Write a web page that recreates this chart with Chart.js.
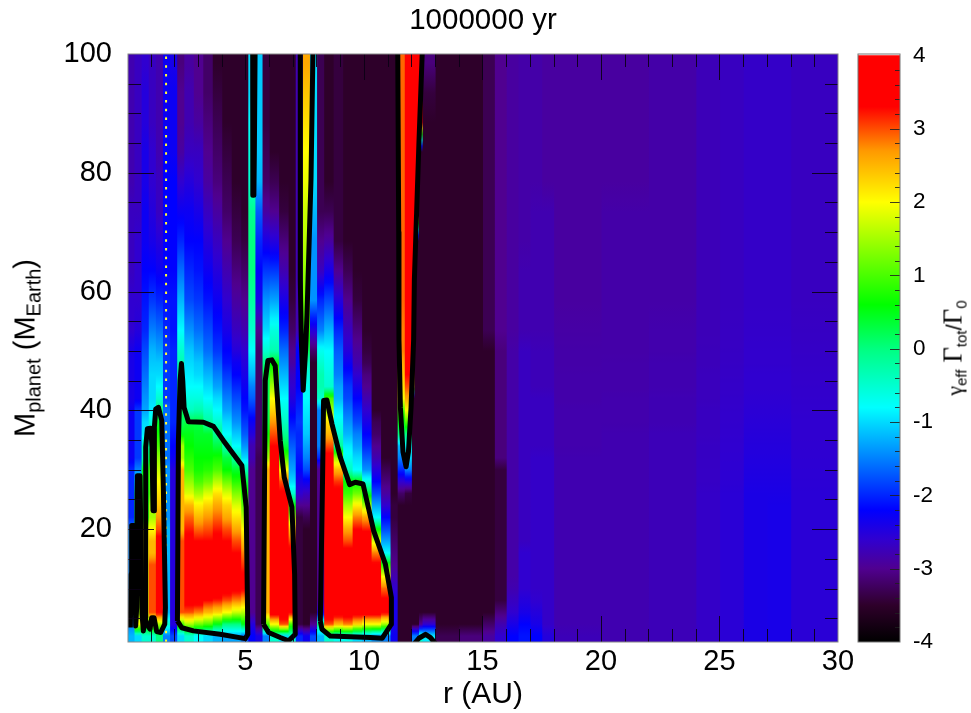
<!DOCTYPE html>
<html>
<head>
<meta charset="utf-8">
<title>1000000 yr</title>
<script src="https://cdn.jsdelivr.net/npm/chart.js@4/dist/chart.umd.min.js"></script>
<style>
	html, body { margin: 0; padding: 0; background: #fff; width: 971px; height: 713px; overflow: hidden; }
	canvas { position: absolute; top: 0; display: block; }
	#mainChart { left: 0; }
	#barChart { left: 850px; }
	.rot { position: absolute; white-space: nowrap; color: #000; transform: translate(-50%, -50%) rotate(-90deg); }
	#yTitle { left: 25px; top: 348px; font: 29px "Liberation Sans", sans-serif; }
	#yTitle sub { font-size: 20px; vertical-align: -6px; line-height: 0; }
	#barTitle { left: 953px; top: 348px; font: 27px "Liberation Serif", serif; }
	#barTitle sub { font: 15px "Liberation Sans", sans-serif; vertical-align: -5px; line-height: 0; }
	#barTitle .slash { font: 22px "Liberation Sans", sans-serif; }
	#barTitle .gam { font-size: 22px; }
</style>
</head>
<body>
<canvas id="mainChart" width="971" height="713"></canvas>
<canvas id="barChart" width="121" height="713"></canvas>
<div class="rot" id="yTitle">M<sub>planet</sub>&nbsp;(M<sub>Earth</sub>)</div>
<div class="rot" id="barTitle"><span class="gam">γ</span><sub>eff</sub>&nbsp;Γ<sub>tot</sub><span class="slash">/</span>Γ<sub>0</sub></div>
<script>
const titleText = "1000000 yr";
const xTitleText = "r (AU)";
const xTickValues = [5, 10, 15, 20, 25, 30];
const yTickValues = [20, 40, 60, 80, 100];
const barTickValues = [-4, -3, -2, -1, 0, 1, 2, 3, 4];

// colour table
const cmapLevels = [-4, -3.5, -3, -2.6, -2.2, -1.5, -0.8, 0, 0.6, 2, 2.7, 3.3, 4];
const cmapColors = ["#000000", "#2e002a", "#500090", "#3000d0", "#0000ff", "#0080ff", "#00ffff", "#00ff80", "#00ff00", "#ffff00", "#ff9900", "#ff0000", "#ff0000"];

// r column edges and the mass each value in a column was read at
const rEdges = [0.05, 0.3, 0.6, 0.9, 1.2, 1.5, 1.8, 2.1, 2.4, 2.8, 3.2, 3.6, 4, 4.4, 4.8, 5.1, 5.4, 5.7, 6, 6.4, 6.8, 7.1, 7.4, 7.7, 8, 8.3, 8.7, 9.1, 9.5, 9.9, 10.3, 10.7, 11.1, 11.4, 11.7, 12, 12.1, 12.3, 12.45, 13, 14, 15, 15.5, 16, 16.5, 17, 17.5, 18, 20, 22, 24, 25, 26, 27, 28, 30];
const massRows = [2, 4, 6, 8, 10, 12, 14, 16, 18, 20, 22, 24, 26, 28, 30, 32, 34, 36, 38, 40, 42, 44, 46, 48, 50, 53.5, 58.5, 63.5, 68.5, 73.5, 78.5, 83.5, 88.5, 93.5, 98.5];

// one list per r column, bottom to top
const gamma = [
[-1.2,-1.5,-1.5,-1.5,-1.5,-1.5,-1.5,-1.5,-1.5,-1.5,-2,-2,-2,-2,-2,-2.3,-2.3,-2.3,-2.3,-2.3,-2.4,-2.4,-2.4,-2.4,-2.4,-2.6,-2.6,-2.7,-2.7,-2.7,-2.8,-2.8,-2.8,-2.8,-2.8],
[-1,2,1.5,1.5,1.5,1.5,1.5,1.5,1.5,.5,.5,.5,.5,-.6,-1.5,-1.9,-1.9,-1.9,-1.9,-1.9,-2.3,-2.3,-2.3,-2.3,-2.3,-2.5,-2.6,-2.6,-2.6,-2.7,-2.7,-2.7,-2.7,-2.7,-2.7],
[-.5,1,2,2,2,2,2,2,2,2,.5,.5,.5,.5,.5,-.3,-.3,-.9,-1,-1.3,-1.4,-1.5,-1.6,-1.7,-1.8,-2,-2.1,-2.2,-2.3,-2.3,-2.4,-2.4,-2.5,-2.5,-2.6],
[-.5,1.5,3,3,3,3,3,2.5,2.5,2,1.5,1.5,1,1,1,.5,0,-.3,-.6,-.9,-1,-1,-1,-1.1,-1.2,-1.5,-1.9,-2.2,-2.4,-2.5,-2.6,-2.6,-2.7,-2.7,-2.7],
[0,1.5,3.5,3.5,3.5,3.5,3.5,3.5,3.5,3,2.7,2.4,2.2,2,1.7,1.4,1,.7,.4,0,-.5,-.8,-1,-1.1,-1.3,-1.6,-2,-2.3,-2.5,-2.7,-2.7,-2.8,-2.8,-2.8,-2.8],
[-1.5,-.5,-1.2,-1.2,-1.2,-1.2,-1.2,-1.2,-1.2,-1.2,-1.4,-1.4,-1.4,-1.4,-1.4,-1.6,-1.6,-1.6,-1.6,-1.6,-1.9,-1.9,-1.9,-1.9,-1.9,-2,-2.1,-2.2,-2.2,-2.2,-2.2,-2.2,-2.3,-2.3,-2.3],
[-1.8,-2.5,-2.5,-2.5,-2.5,-2.5,-2.5,-2.5,-2.5,-2.5,-2.5,-2.5,-2.5,-2.5,-2.5,-2.3,-2.2,-2.1,-2,-2,-2,-2,-2,-2,-2,-2.1,-2.1,-2.2,-2.2,-2.2,-2.2,-2.3,-2.3,-2.3,-2.4],
[-1,1,3,3,3,3,3,3,3,2.5,2.5,2.5,2.5,2.5,2.5,1.5,1.5,.5,.2,.2,-.1,-.2,-.2,-.3,-.5,-.8,-1.2,-1.6,-2,-2.3,-2.6,-2.9,-3,-3,-3.1],
[-.5,1.5,3,3.5,3.5,3.5,3.5,3.5,3.5,3.2,2.9,2.5,1.8,1.4,1,.8,.6,.5,.3,-.4,-.6,-.8,-.9,-1,-1.1,-1.4,-1.8,-2,-2.2,-2.3,-2.5,-2.7,-2.8,-2.8,-2.9],
[-.8,1.2,2.8,3.6,3.6,3.6,3.6,3.6,3.3,2.9,2.5,2.1,1.5,1,.7,.6,.5,.4,.3,-.3,-.6,-.8,-1,-1.1,-1.3,-1.6,-1.9,-2.1,-2.2,-2.4,-2.6,-2.7,-2.9,-3,-3],
[-1,1,2.5,3.3,3.6,3.6,3.6,3.6,3.3,3,2.7,2.3,1.8,1.2,.8,.6,.5,.4,-.2,-.5,-.8,-1,-1.2,-1.4,-1.6,-1.8,-2.1,-2.3,-2.5,-2.7,-2.9,-3,-3.1,-3.2,-3.2],
[-1.2,.5,2.3,3.2,3.7,3.7,3.7,3.7,3.5,3.2,2.9,2.6,2.2,1.6,1,.7,.3,-.1,-.5,-.8,-1,-1.3,-1.5,-1.7,-1.9,-2.1,-2.3,-2.5,-2.7,-2.9,-3.1,-3.2,-3.3,-3.4,-3.5],
[-1.3,0,2,3,3.6,3.6,3.6,3.6,3.3,3,2.6,2.3,1.8,1.2,.6,.3,-.3,-.8,-1,-1.3,-1.5,-1.7,-1.9,-2.1,-2.2,-2.4,-2.6,-2.8,-3,-3.2,-3.3,-3.4,-3.5,-3.5,-3.5],
[-1.3,0,1.7,2.8,3.5,3.5,3.5,3.3,3,2.6,2.2,1.8,1.3,.8,.4,-.2,-.8,-1.1,-1.4,-1.6,-1.8,-2,-2.2,-2.3,-2.5,-2.7,-2.9,-3.1,-3.3,-3.4,-3.5,-3.5,-3.5,-3.5,-3.5],
[-1.6,.5,1.6,2.6,3.4,3.4,3.1,2.8,2.4,2,1.6,1.1,.7,.3,-.3,-1,-1.4,-1.7,-1.9,-2.1,-2.2,-2.3,-2.4,-2.5,-2.6,-2.8,-3,-3.2,-3.4,-3.5,-3.5,-3.5,-3.5,-3.5,-3.5],
[-2.2,-2.5,-3,-3,-3,-3,-3,-3,-3,-3,-3,-3,-3,-3,-3,-2.8,-2.8,-2.5,-2.3,-2,-1.7,-1.5,-1.2,-1,-.8,-.5,-.2,0,0,-.1,-.5,-.6,-.8,-1,-1],
[-2.4,-3.3,-3.3,-3.3,-3.3,-3.3,-3.3,-3.3,-3.3,-3.3,-3.3,-3.3,-3.3,-3.3,-3.3,-3.3,-3.2,-3.2,-3.2,-3.2,-3.2,-3.2,-3.2,-3.2,-3.2,-3,-2.4,-2.2,-2,-1.7,-1.2,-1.1,-1.1,-1.1,-1.1],
[-1.5,1,2.5,2.5,2.5,2.5,2.5,2.5,2.5,2.5,2.5,2.5,2.5,2.5,2.5,1.5,1,.6,.3,.2,.2,.2,.3,0,-.5,-1,-1.4,-1.9,-2.4,-2.9,-3.2,-3.3,-3.4,-3.4,-3.4],
[-.5,2,3.7,3.7,3.7,3.7,3.7,3.7,3.7,3.7,3.7,3.7,3.7,3.7,3.6,3.4,3.3,3,2.7,2.3,2,1.5,1,.5,-.3,-.6,-1.3,-1.9,-2.5,-3,-3.3,-3.5,-3.5,-3.5,-3.5],
[-1,3,3.7,3.7,3.7,3.7,3.7,3.7,3.7,3.7,3.7,3.7,3.4,3,2,1,.3,-.1,-.4,-.6,-.8,-1,-1.2,-1.4,-1.6,-2,-2.4,-2.8,-3.1,-3.4,-3.5,-3.5,-3.5,-3.5,-3.5],
[-.5,1,3.6,3.6,3.6,3.6,3.6,3.6,3,2.4,1.5,.6,-.5,-1,-1.3,-1.5,-1.7,-1.9,-2.1,-2.3,-2.5,-2.6,-2.7,-2.9,-3,-3.2,-3.4,-3.5,-3.5,-3.5,-3.5,-3.5,-3.5,-3.5,-3.5],
[-2,-3.4,-3.4,-3.4,-3.4,-3.4,-3.4,-3.4,-3.4,-3.4,-3.4,-3,-2.6,-2.4,-2.2,-2.1,-2,-2,-1.9,-2,-2.1,-2.2,-2.2,-2.2,-2.2,-2.8,-2.8,-2.8,-2.8,-2.8,-2.8,-2.8,-2.8,-2.8,-2.8],
[-2.3,-3.5,-3.5,-3.5,-3.5,-3.5,-3.5,-3.5,-3.5,-3.5,-3.3,-3,-2.7,-2.3,-1.8,-1.5,-1.3,-1.1,-1,-.9,-.8,-.7,-.6,-.4,.2,.8,1.2,1.4,1.6,1.7,1.9,2,2.2,2.4,2.6],
[-1.8,-3,-3.5,-3.5,-3.5,-3.5,-3.5,-3.5,-3.5,-3.5,-3.5,-3.5,-3.5,-3.5,-3.5,-3.5,-3.5,-3.5,-3.5,-3.5,-3.5,-3.5,-3.5,-3.5,-3.2,-2.5,-1.4,-1.4,-1.4,-1.2,-1,-1,-1,-1,-1],
[-1.2,0,-2.5,-3,-3,-3,-3,-3,-3,-3,-3,-3,-3,-3,-3,-2,-1.5,-1.5,-1.5,-1.5,-.5,-.3,-.3,-.5,-.7,-1.5,-2,-2.7,-3,-3.3,-3.3,-3.3,-3.3,-3.3,-3.3],
[-.5,3,3.7,3.7,3.7,3.7,3.7,3.7,3.7,3.7,3.7,3.7,3.7,3.7,3.6,3.5,3,2.5,2.2,1.5,1,-.5,-.6,-.7,-.8,-1.2,-1.8,-2.4,-2.9,-3.3,-3.5,-3.5,-3.5,-3.5,-3.5],
[-.7,2.5,3.7,3.7,3.7,3.7,3.7,3.7,3.7,3.7,3.7,3.7,3.5,3.1,2.5,1.5,-.2,-.5,-.7,-.9,-1.2,-1.3,-1.5,-1.6,-1.7,-2,-2.5,-3,-3.4,-3.4,-3.4,-3.4,-3.4,-3.4,-3.4],
[-.7,2.8,3.7,3.7,3.7,3.7,3.7,3.5,3,2.6,2,1.5,.9,.6,-.4,-.7,-.9,-1.2,-1.4,-1.6,-1.8,-1.9,-2.1,-2.3,-2.5,-2.7,-3,-3.3,-3.5,-3.5,-3.5,-3.5,-3.5,-3.5,-3.5],
[-1,2.3,3.7,3.7,3.7,3.7,3.7,3.7,3.7,3.3,2.8,2.1,1.2,.6,-.8,-1,-1.3,-1.5,-1.8,-2,-2.2,-2.4,-2.6,-2.8,-2.9,-3.1,-3.4,-3.5,-3.5,-3.5,-3.5,-3.5,-3.5,-3.5,-3.5],
[-1.2,2,3.7,3.7,3.7,3.7,3.7,3.7,3.7,3.2,2.6,1.5,.4,-.6,-1.4,-1.7,-2,-2.2,-2.4,-2.6,-2.8,-3,-3.1,-3.3,-3.4,-3.5,-3.5,-3.5,-3.5,-3.5,-3.5,-3.5,-3.5,-3.5,-3.5],
[-1.4,2,3.7,3.7,3.7,3.7,3.4,2.8,1.8,.6,-.8,-1.3,-1.8,-2.2,-2.5,-2.8,-3,-3.2,-3.3,-3.5,-3.5,-3.5,-3.5,-3.5,-3.5,-3.5,-3.5,-3.5,-3.5,-3.5,-3.5,-3.5,-3.5,-3.5,-3.5],
[-1.5,1.5,3.5,3.4,2.9,2,.8,-.8,-1.3,-1.8,-2.2,-2.6,-2.9,-3.1,-3.3,-3.5,-3.5,-3.5,-3.5,-3.5,-3.5,-3.5,-3.5,-3.5,-3.5,-3.5,-3.5,-3.5,-3.5,-3.5,-3.5,-3.5,-3.5,-3.5,-3.5],
[-2.3,-2.4,-2.4,-2.4,-2.6,-2.8,-3,-3.1,-3.2,-3.3,-3.4,-3.4,-3.5,-3.5,-3.5,-3.5,-3.5,-3.5,-3.5,-3.5,-3.5,-3.5,-3.5,-3.5,-3.5,-3.5,-3.5,-3.5,-3.5,-3.5,-3.5,-3.5,-3.5,-3.5,-3.5],
[-3.5,-3.5,-3.5,-3.5,-3.5,-3.5,-3.5,-3.5,-3.5,-3.5,-3.5,-3.5,-3.2,-2.6,-2,-1.5,-1.2,0,.5,1,2,2.2,2.4,2.6,2.8,2.8,2.9,2.9,2.9,2.9,2.9,2.9,2.9,2.9,2.9],
[-3.5,-3.5,-3.5,-3.5,-3.5,-3.5,-3.5,-3.5,-3.5,-3.5,-3.5,-3.5,-3.4,-2.5,-1.5,-1,-.8,0,1,2,2.6,3,3.3,3.5,3.6,3.7,3.7,3.7,3.7,3.7,3.7,3.7,3.7,3.7,3.7],
[-1.5,-3.5,-3.5,-3.5,-3.5,-3.5,-3.5,-3.5,-3.5,-3.5,-3.5,-3.5,-3.5,-3.5,-3.5,-3.5,-3.5,-3.5,-3.5,-3.5,-3.5,2,3,3.5,3.6,3.7,3.7,3.7,3.7,3.7,3.7,3.7,3.7,3.7,3.7],
[-1.5,-3.5,-3.5,-3.5,-3.5,-3.5,-3.5,-3.5,-3.5,-3.5,-3.5,-3.5,-3.5,-3.5,-3.5,-3.5,-3.5,-3.5,-3.5,-3.5,-3.5,-3.5,-3.5,-3.5,-3.5,-3.5,-3.5,-3.5,-3.5,3.5,3.7,3.7,3.7,3.7,3.7],
[-.5,-3,-3.5,-3.5,-3.5,-3.5,-3.5,-3.5,-3.5,-3.5,-3.5,-3.5,-3.5,-3.5,-3.5,-3.5,-3.5,-3.5,-3.5,-3.5,-3.5,-3.5,-3.5,-3.5,-3.5,-3.5,-3.5,-3.5,-3.5,-3.5,-3.5,-3.5,3.5,3.7,3.7],
[-.9,-2.6,-3.5,-3.5,-3.5,-3.5,-3.5,-3.5,-3.5,-3.5,-3.5,-3.5,-3.5,-3.5,-3.5,-3.5,-3.5,-3.5,-3.5,-3.5,-3.5,-3.5,-3.5,-3.5,-3.5,-3.5,-3.5,-3.5,-3.5,-3.5,-3.5,-3.5,-3.5,-3.4,-3.1],
[-3.3,-3.5,-3.5,-3.5,-3.5,-3.5,-3.5,-3.5,-3.5,-3.5,-3.5,-3.5,-3.5,-3.5,-3.5,-3.5,-3.5,-3.5,-3.5,-3.5,-3.5,-3.5,-3.5,-3.5,-3.5,-3.5,-3.5,-3.5,-3.5,-3.5,-3.5,-3.5,-3.5,-3.5,-3.5],
[-3.1,-3.5,-3.5,-3.5,-3.5,-3.5,-3.5,-3.5,-3.5,-3.5,-3.5,-3.5,-3.5,-3.5,-3.5,-3.5,-3.5,-3.5,-3.5,-3.5,-3.5,-3.5,-3.5,-3.5,-3.5,-3.5,-3.5,-3.5,-3.5,-3.5,-3.5,-3.5,-3.5,-3.5,-3.5],
[-2.9,-3.2,-3.5,-3.5,-3.5,-3.5,-3.5,-3.5,-3.5,-3.5,-3.5,-3.5,-3.5,-3.5,-3.5,-3.5,-3.5,-3.5,-3.5,-3.5,-3.5,-3.5,-3.5,-3.5,-3.5,-3.3,-3.3,-3.3,-3.3,-3.3,-3.3,-3.3,-3.3,-3.3,-3.3],
[-2.6,-2.8,-3.1,-3.4,-3.4,-3.4,-3.4,-3.4,-3.4,-3.4,-3.4,-3.4,-3.4,-3.4,-3.4,-3.1,-3.1,-3.1,-3.1,-3.1,-3.1,-3.1,-3.1,-3.1,-3.1,-3,-3,-3,-3,-3,-3,-3,-3,-3,-3],
[-2.2,-2.4,-2.6,-2.7,-2.8,-2.85,-2.85,-2.85,-2.85,-2.85,-2.85,-2.85,-2.85,-2.85,-2.85,-2.85,-2.85,-2.85,-2.85,-2.85,-2.85,-2.85,-2.85,-2.85,-2.85,-2.9,-2.9,-2.9,-2.9,-2.9,-2.9,-2.9,-2.9,-2.9,-2.9],
[-2.1,-2.2,-2.4,-2.5,-2.6,-2.6,-2.6,-2.6,-2.7,-2.7,-2.7,-2.7,-2.7,-2.7,-2.7,-2.7,-2.7,-2.7,-2.7,-2.7,-2.7,-2.7,-2.7,-2.7,-2.7,-2.8,-2.8,-2.8,-2.85,-2.85,-2.85,-2.85,-2.85,-2.85,-2.85],
[-2.2,-2.4,-2.5,-2.6,-2.65,-2.65,-2.65,-2.65,-2.65,-2.65,-2.65,-2.65,-2.65,-2.65,-2.65,-2.65,-2.7,-2.7,-2.7,-2.7,-2.7,-2.75,-2.75,-2.75,-2.75,-2.8,-2.8,-2.8,-2.8,-2.8,-2.85,-2.85,-2.85,-2.85,-2.85],
[-2.5,-2.65,-2.65,-2.65,-2.65,-2.65,-2.65,-2.65,-2.65,-2.65,-2.65,-2.65,-2.65,-2.65,-2.65,-2.65,-2.7,-2.7,-2.7,-2.7,-2.7,-2.75,-2.75,-2.75,-2.75,-2.8,-2.8,-2.8,-2.8,-2.8,-2.9,-2.9,-2.9,-2.9,-2.9],
[-2.75,-2.8,-2.8,-2.8,-2.8,-2.8,-2.8,-2.8,-2.8,-2.8,-2.8,-2.8,-2.8,-2.8,-2.8,-2.8,-2.82,-2.82,-2.82,-2.82,-2.84,-2.84,-2.84,-2.85,-2.85,-2.87,-2.9,-2.9,-2.9,-2.9,-2.9,-2.9,-2.9,-2.9,-2.9],
[-2.8,-2.8,-2.8,-2.8,-2.8,-2.8,-2.8,-2.8,-2.8,-2.8,-2.8,-2.8,-2.8,-2.8,-2.8,-2.8,-2.8,-2.8,-2.82,-2.82,-2.82,-2.84,-2.84,-2.84,-2.85,-2.85,-2.85,-2.85,-2.85,-2.85,-2.9,-2.9,-2.9,-2.9,-2.9],
[-2.75,-2.75,-2.75,-2.75,-2.75,-2.75,-2.75,-2.75,-2.75,-2.75,-2.75,-2.75,-2.75,-2.75,-2.75,-2.75,-2.75,-2.75,-2.78,-2.78,-2.78,-2.8,-2.8,-2.8,-2.82,-2.82,-2.85,-2.85,-2.85,-2.85,-2.85,-2.85,-2.85,-2.85,-2.85],
[-2.65,-2.65,-2.65,-2.65,-2.65,-2.65,-2.65,-2.65,-2.65,-2.65,-2.65,-2.65,-2.65,-2.67,-2.67,-2.68,-2.68,-2.7,-2.7,-2.7,-2.72,-2.72,-2.72,-2.74,-2.74,-2.75,-2.75,-2.75,-2.75,-2.75,-2.75,-2.75,-2.75,-2.75,-2.75],
[-2.55,-2.55,-2.55,-2.55,-2.55,-2.55,-2.55,-2.55,-2.55,-2.55,-2.55,-2.55,-2.55,-2.57,-2.58,-2.59,-2.6,-2.61,-2.62,-2.63,-2.64,-2.65,-2.66,-2.67,-2.68,-2.69,-2.7,-2.7,-2.7,-2.7,-2.7,-2.7,-2.7,-2.7,-2.7],
[-2.42,-2.42,-2.42,-2.42,-2.42,-2.42,-2.42,-2.42,-2.42,-2.42,-2.42,-2.42,-2.42,-2.44,-2.46,-2.48,-2.5,-2.52,-2.54,-2.56,-2.58,-2.6,-2.6,-2.62,-2.62,-2.64,-2.65,-2.65,-2.65,-2.65,-2.65,-2.65,-2.65,-2.65,-2.65],
[-2.4,-2.4,-2.4,-2.4,-2.4,-2.4,-2.4,-2.4,-2.4,-2.4,-2.4,-2.4,-2.42,-2.44,-2.46,-2.48,-2.5,-2.52,-2.54,-2.56,-2.58,-2.6,-2.6,-2.62,-2.62,-2.64,-2.65,-2.65,-2.65,-2.65,-2.65,-2.65,-2.65,-2.65,-2.65],
[-2.55,-2.55,-2.55,-2.55,-2.55,-2.55,-2.55,-2.55,-2.55,-2.55,-2.55,-2.55,-2.55,-2.56,-2.57,-2.58,-2.59,-2.6,-2.6,-2.61,-2.62,-2.63,-2.64,-2.65,-2.66,-2.68,-2.7,-2.7,-2.7,-2.7,-2.7,-2.7,-2.7,-2.7,-2.7],
];

// zero contours, [r, mass]
const contourA = [[.149,3.43],[.177,12.4],[.205,20.6],[.289,20.6],[.346,12.4],[.374,3.7],[.416,6.8],[.444,29],[.557,29],[.6,16.9],[.642,5.7],[.698,2.86],[.768,5.1]];
const contourB = [[.768,5.1],[.797,33.8],[.867,36.9],[1.008,37],[1.064,33.8],[1.106,23.1],[1.149,23.1],[1.163,37.2],[1.219,40.2],[1.332,40.5],[1.473,38.3],[1.543,26.5],[1.628,6.8],[1.6,4],[1.43,2.6],[1.26,2.75],[1.149,5.1],[1.05,5.1],[.98,3.15],[.839,4],[.768,5.1]];
const contourC = [[2.135,4.55],[2.177,34.9],[2.247,45],[2.304,47.9],[2.36,45],[2.416,40.5],[2.6,38.1],[3.233,38],[3.656,37.3],[4.078,34.9],[4.853,30.7],[5.036,23.7],[5.106,2.3],[4.994,1.57],[3.937,2.3],[2.81,2.87],[2.318,3.4],[2.135,4.55]];
const contourD = [[5.768,4],[5.839,45],[5.951,48.4],[6.12,48.5],[6.261,47.5],[6.473,34.9],[6.64,28.7],[6.965,23.7],[7.078,12.4],[7.106,2.3],[6.825,1.2],[6.473,1.75],[5.98,2.6],[5.768,4]];
const contourE = [[8.162,4.55],[8.26,29.3],[8.3,41.65],[8.44,41.76],[8.655,37.7],[9.007,32.1],[9.4,27.5],[9.64,27.9],[9.964,27.6],[10.415,19.7],[10.908,14.1],[11.16,8.5],[11.16,4],[10.77,1.63],[10.27,1.74],[8.584,2],[8.232,3.15],[8.162,4.55]];
const contourF = [[5.31,100],[5.31,85.8],[5.32,76.2],[5.36,76.2],[5.38,83.5],[5.41,100]];
const contourG = [[7.317,100],[7.317,62],[7.36,52],[7.44,43.4],[7.54,50],[7.6,56],[7.77,79],[7.85,100]];
const contourH = [[11.43,100],[11.47,70],[11.48,52],[11.54,40.5],[11.65,33],[11.78,30.5],[11.88,33],[11.99,40.5],[12.1,52],[12.13,62],[12.32,84.7],[12.46,100]];
const contourI = [[12.13,.73],[12.32,1.63],[12.6,2.3],[12.81,1.74],[13.02,.73]];
const contours = [contourA, contourB, contourC, contourD, contourE, contourF, contourG, contourH, contourI];
const snowLine = [[1.656,1],[1.656,100]];

function hexRgb(h) {
	return [parseInt(h.slice(1, 3), 16), parseInt(h.slice(3, 5), 16), parseInt(h.slice(5, 7), 16)];
}
function colorOf(v) {
	for (let i = 1; i < cmapLevels.length; i++) {
		if (v <= cmapLevels[i]) {
			const t = (v - cmapLevels[i - 1]) / (cmapLevels[i] - cmapLevels[i - 1]);
			const a = hexRgb(cmapColors[i - 1]);
			const b = hexRgb(cmapColors[i]);
			return "rgb(" + a.map((c, k) => Math.round(c + (b[k] - c) * t)).join(",") + ")";
		}
	}
	return cmapColors[cmapColors.length - 1];
}

// vertical fill of a column: the canvas gradient shades between its readings
function columnFill(col) {
	return function (c) {
		const { chart } = c;
		if (!chart.chartArea) return "#000";
		const sy = chart.scales.y;
		const g = chart.ctx.createLinearGradient(0, sy.getPixelForValue(1), 0, sy.getPixelForValue(100));
		const off = (m) => Math.min(1, Math.max(0, (m - 1) / 99));
		col.forEach(function (v, i) {
			g.addColorStop(off(massRows[i]), colorOf(v));
			if (i + 1 < col.length) {
				for (let k = 1; k < 5; k++) {
					const t = k / 5;
					g.addColorStop(off(massRows[i] + (massRows[i + 1] - massRows[i]) * t), colorOf(v + (col[i + 1] - v) * t));
				}
			}
		});
		return g;
	};
}

const font = "'Liberation Sans', Helvetica, Arial, sans-serif";
Chart.defaults.color = "#000";
Chart.defaults.animation = false;

const centres = gamma.map((col, c) => (rEdges[c] + rEdges[c + 1]) / 2);
const minGap = Math.min(...centres.slice(1).map((v, i) => v - centres[i]));

const cellSets = gamma.map(function (col, c) {
	return {
		type: "bar",
		grouped: false,
		order: 3,
		barPercentage: (rEdges[c + 1] - rEdges[c]) / minGap,
		categoryPercentage: 1,
		borderWidth: 0,
		inflateAmount: 0.6,
		data: [{ x: centres[c], y: [1, 100] }],
		backgroundColor: columnFill(col),
	};
});
const lineSets = contours.map(function (pts) {
	return {
		type: "scatter",
		showLine: true,
		order: 1,
		borderColor: "#000",
		borderWidth: 5,
		borderJoinStyle: "round",
		pointRadius: 0,
		data: pts.map((p) => ({ x: p[0], y: p[1] })),
	};
});
lineSets.push({
	type: "scatter",
	showLine: true,
	order: 2,
	borderColor: "#ffff33",
	borderWidth: 2,
	borderDash: [2.5, 6.2],
	pointRadius: 0,
	data: snowLine.map((p) => ({ x: p[0], y: p[1] })),
});

const insideTicks = {
	id: "insideTicks",
	afterDatasetsDraw(chart) {
		const { ctx, chartArea: a, scales } = chart;
		const sx = scales.x, sy = scales.y;
		ctx.save();
		ctx.strokeStyle = "rgba(10,0,20,0.9)";
		ctx.lineWidth = 1;
		ctx.beginPath();
		for (let v = 1; v < 30; v++) {
			const len = v % 5 === 0 ? 26 : 13;
			const px = Math.round(sx.getPixelForValue(v)) + 0.5;
			ctx.moveTo(px, a.bottom); ctx.lineTo(px, a.bottom - len);
			ctx.moveTo(px, a.top); ctx.lineTo(px, a.top + len);
		}
		for (let v = 5; v < 100; v += 5) {
			const len = v % 20 === 0 ? 26 : 13;
			const py = Math.round(sy.getPixelForValue(v)) + 0.5;
			ctx.moveTo(a.left, py); ctx.lineTo(a.left + len, py);
			ctx.moveTo(a.right, py); ctx.lineTo(a.right - len, py);
		}
		ctx.stroke();
		ctx.strokeStyle = "#888";
		ctx.strokeRect(a.left, a.top, a.right - a.left, a.bottom - a.top);
		// title centred on the plot, not on the canvas
		ctx.fillStyle = "#000";
		ctx.font = "29.5px " + font;
		ctx.textAlign = "center";
		ctx.fillText(titleText, (a.left + a.right) / 2, 29);
		ctx.restore();
	},
};

new Chart(document.getElementById("mainChart"), {
	type: "bar",
	data: { datasets: cellSets.concat(lineSets) },
	options: {
		responsive: false,
		layout: { padding: { right: 133, top: 54 } },
		plugins: { legend: { display: false }, tooltip: { enabled: false } },
		scales: {
			x: {
				type: "linear",
				offset: false,
				min: 0.05,
				max: 30,
				grid: { display: false, drawTicks: false },
				border: { display: false },
				afterBuildTicks: (s) => { s.ticks = xTickValues.map((v) => ({ value: v })); },
				afterFit: (s) => { s.height = 71; },
				ticks: { font: { family: font, size: 29 }, padding: 3, maxRotation: 0, autoSkip: false, callback: (v) => String(v) },
				title: { display: true, text: xTitleText, font: { family: font, size: 30 }, padding: { top: 0, bottom: 0 } },
			},
			y: {
				type: "linear",
				offset: false,
				min: 1,
				max: 100,
				grid: { display: false, drawTicks: false },
				border: { display: false },
				afterBuildTicks: (s) => { s.ticks = yTickValues.map((v) => ({ value: v })); },
				afterFit: (s) => { s.width = 128; },
				ticks: { font: { family: font, size: 29 }, padding: 16, autoSkip: false, callback: (v) => String(v) },
			},
		},
	},
	plugins: [insideTicks],
});

// colour bar, a single floating bar filled with the colour table
const barTicks = {
	id: "barTicks",
	afterDatasetsDraw(chart) {
		const { ctx, chartArea: a, scales } = chart;
		ctx.save();
		ctx.strokeStyle = "rgba(30,30,30,0.85)";
		ctx.lineWidth = 1;
		ctx.beginPath();
		for (let k = -19; k < 20; k++) {
			const len = k % 5 === 0 ? 10 : 5;
			const py = Math.round(scales.y.getPixelForValue(k / 5)) + 0.5;
			ctx.moveTo(a.right, py); ctx.lineTo(a.right - len, py);
		}
		ctx.stroke();
		ctx.strokeStyle = "#777";
		ctx.strokeRect(a.left, a.top, a.right - a.left, a.bottom - a.top);
		ctx.restore();
	},
};

new Chart(document.getElementById("barChart"), {
	type: "bar",
	data: {
		datasets: [{
			grouped: false,
			barPercentage: 1,
			categoryPercentage: 1,
			borderWidth: 0,
			data: [{ x: 0.5, y: [barTickValues[0], barTickValues[barTickValues.length - 1]] }],
			backgroundColor: function (c) {
				const { chart } = c;
				if (!chart.chartArea) return "#000";
				const sy = chart.scales.y;
				const g = chart.ctx.createLinearGradient(0, sy.getPixelForValue(-4), 0, sy.getPixelForValue(4));
				cmapLevels.forEach((v, i) => g.addColorStop((v + 4) / 8, cmapColors[i]));
				return g;
			},
		}],
	},
	options: {
		responsive: false,
		layout: { padding: { left: 8, top: 54, bottom: 71 } },
		plugins: { legend: { display: false }, tooltip: { enabled: false } },
		scales: {
			x: { type: "linear", display: false, offset: false, min: 0, max: 1, ticks: { stepSize: 1 } },
			y: {
				type: "linear",
				position: "right",
				offset: false,
				min: -4,
				max: 4.02,
				grid: { display: false, drawTicks: false },
				border: { display: false },
				afterBuildTicks: (s) => { s.ticks = barTickValues.map((v) => ({ value: v })); },
				afterFit: (s) => { s.width = 71; },
				ticks: { font: { family: font, size: 22.5 }, padding: 13, autoSkip: false, callback: (v) => String(v) },
			},
		},
	},
	plugins: [barTicks],
});
</script>
</body>
</html>
